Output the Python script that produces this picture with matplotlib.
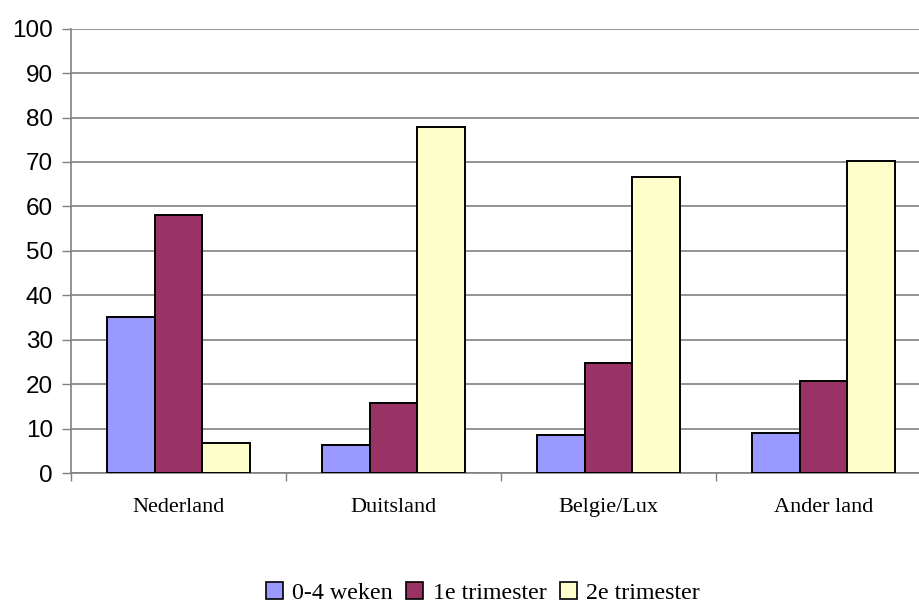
import numpy as np
import matplotlib
matplotlib.use("Agg")
import matplotlib.pyplot as plt
from matplotlib.patches import Patch

landen = ["Nederland", "Duitsland", "Belgie/Lux", "Ander land"]
reeksen = ["0-4 weken", "1e trimester", "2e trimester"]
kleuren = ["#9999FF", "#993366", "#FFFFCC"]
weken_0_4 = [35.0, 6.2, 8.5, 9.0]
trimester_1 = [58.0, 15.8, 24.8, 20.6]
trimester_2 = [6.8, 77.9, 66.7, 70.2]
yticks = list(range(0, 101, 10))

fig = plt.figure(figsize=(9.19, 6.03), dpi=100)
W, H = 919.0, 603.0
# plot area runs past the right edge of the picture (cropped like the original)
x_left, x_right = 71.0, 931.0
y_bot, y_top = 473.0, 28.7
ax = fig.add_axes([x_left / W, (H - y_bot) / H, (x_right - x_left) / W, (y_bot - y_top) / H])

x = np.arange(len(landen))
bw = 0.221
for i, (vals, kl) in enumerate(zip([weken_0_4, trimester_1, trimester_2], kleuren)):
    ax.bar(x + (i - 1) * bw, vals, width=bw, color=kl, edgecolor="black",
           linewidth=1.4, zorder=3)

ax.set_xlim(-0.5, 3.5)
ax.set_ylim(0, 100)
ax.set_yticks(yticks)
ax.set_yticklabels([str(t) for t in yticks], fontsize=17.5, family="Liberation Sans")
ax.grid(axis="y", color="#808080", linewidth=1.2, zorder=0)
ax.set_axisbelow(True)

ax.set_xticks(x)
ax.set_xticklabels(landen, fontsize=16, family="Liberation Serif")
ax.tick_params(axis="x", length=0, pad=18)
ax.set_xticks(np.arange(-0.5, len(landen), 1.0), minor=True)
ax.tick_params(axis="x", which="minor", length=6, color="#808080", width=1)
ax.tick_params(axis="y", length=6.5, color="#808080", width=1, pad=6.5)

for s in ["top", "right"]:
    ax.spines[s].set_visible(False)
for s in ["left", "bottom"]:
    ax.spines[s].set_color("#808080")
    ax.spines[s].set_linewidth(1.2)

handles = [Patch(facecolor=k, edgecolor="black", linewidth=1.2) for k in kleuren]
fig.legend(handles, reeksen, loc="center", bbox_to_anchor=(483 / W, (H - 593) / H),
           ncol=3, frameon=False, prop={"family": "Liberation Serif", "size": 17.3},
           handlelength=0.7, handleheight=0.7, handletextpad=0.4, columnspacing=0.55)

fig.savefig("out.png", dpi=100)
